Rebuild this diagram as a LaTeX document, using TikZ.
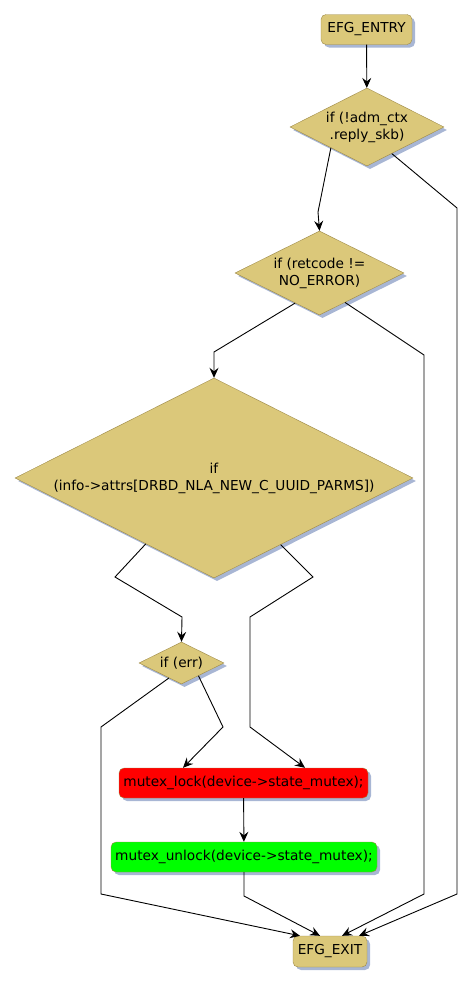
\documentclass[tikz,border=0pt]{standalone}
\usepackage{fontspec}
\setmainfont{DejaVu Sans}
\usetikzlibrary{shapes.geometric,shadows,arrows.meta}

\definecolor{actfill}{RGB}{219,200,122}
\definecolor{actline}{RGB}{158,138,72}
\definecolor{shade}{RGB}{168,182,212}

\begin{document}
\begin{tikzpicture}[
    x=1pt, y=-1pt,
    every node/.style={font=\fontsize{13.7}{17}\selectfont, align=center},
    act/.style={rectangle, rounded corners=5pt, draw=actline, fill=actfill,
        inner xsep=3pt, inner ysep=0pt, minimum height=30pt,
        drop shadow={shadow xshift=3pt, shadow yshift=-3pt, fill=shade, opacity=1}},
    test/.style={diamond, shape aspect=2, draw=actline, fill=actfill, inner sep=0pt,
        drop shadow={shadow xshift=3pt, shadow yshift=-3pt, fill=shade, opacity=1}},
    flow/.style={line width=0.9pt, -{Stealth[length=10pt, width=9pt, inset=3.5pt]}}
]
\useasboundingbox (0,0) rectangle (473,985);

\node[act, minimum width=91pt] (entry) at (366.5,29.5) {EFG\_ENTRY};
\node[test, minimum width=154pt, minimum height=78pt] (ifadm) at (367,127)
    {if (!adm\_ctx\\.reply\_skb)};
\node[test, minimum width=169pt, minimum height=84pt] (ifret) at (319.5,273)
    {if (retcode !=\\NO\_ERROR)};
\node[test, minimum width=398pt, minimum height=200pt] (ifinfo) at (214,478)
    {if\\(info->attrs[DRBD\_NLA\_NEW\_C\_UUID\_PARMS])};
\node[test, minimum width=85pt, minimum height=42pt] (iferr) at (181.5,663) {if (err)};
\node[act, fill=red, minimum width=249pt] (lock) at (243.5,783)
    {mutex\_lock(device->state\_mutex);};
\node[act, fill=green, minimum width=266pt] (unlock) at (244,857)
    {mutex\_unlock(device->state\_mutex);};
\node[act, minimum width=74pt, minimum height=31pt] (exit) at (330,951.5) {EFG\_EXIT};

\draw[flow] (entry) -- (ifadm);
\draw[flow] (ifadm.210) -- (318,212) -- (ifret.north);
\draw[flow] (ifadm.313) -- (457,208) -- (457,894) -- ([xshift=29pt]exit.north);
\draw[flow] (ifret.231) -- (214,352) -- (ifinfo.north);
\draw[flow] (ifret.311) -- (424,355) -- (424,894) -- ([xshift=12pt]exit.north);
\draw[flow] (ifinfo.224.6) -- (115,577) -- (182,617) -- (iferr.north);
\draw[flow] (ifinfo.315.4) -- (313,577) -- (250,617) -- (250,727) -- ([xshift=61.5pt]lock.north);
\draw[flow] (iferr.323) -- (223,727) -- ([xshift=-60.5pt]lock.north);
\draw[flow] (iferr.230) -- (101,727) -- (101,894) -- ([xshift=-30pt]exit.north);
\draw[flow] (lock) -- (unlock);
\draw[flow] (unlock.south) -- (244,896) -- ([xshift=-10pt]exit.north);

\end{tikzpicture}
\end{document}
